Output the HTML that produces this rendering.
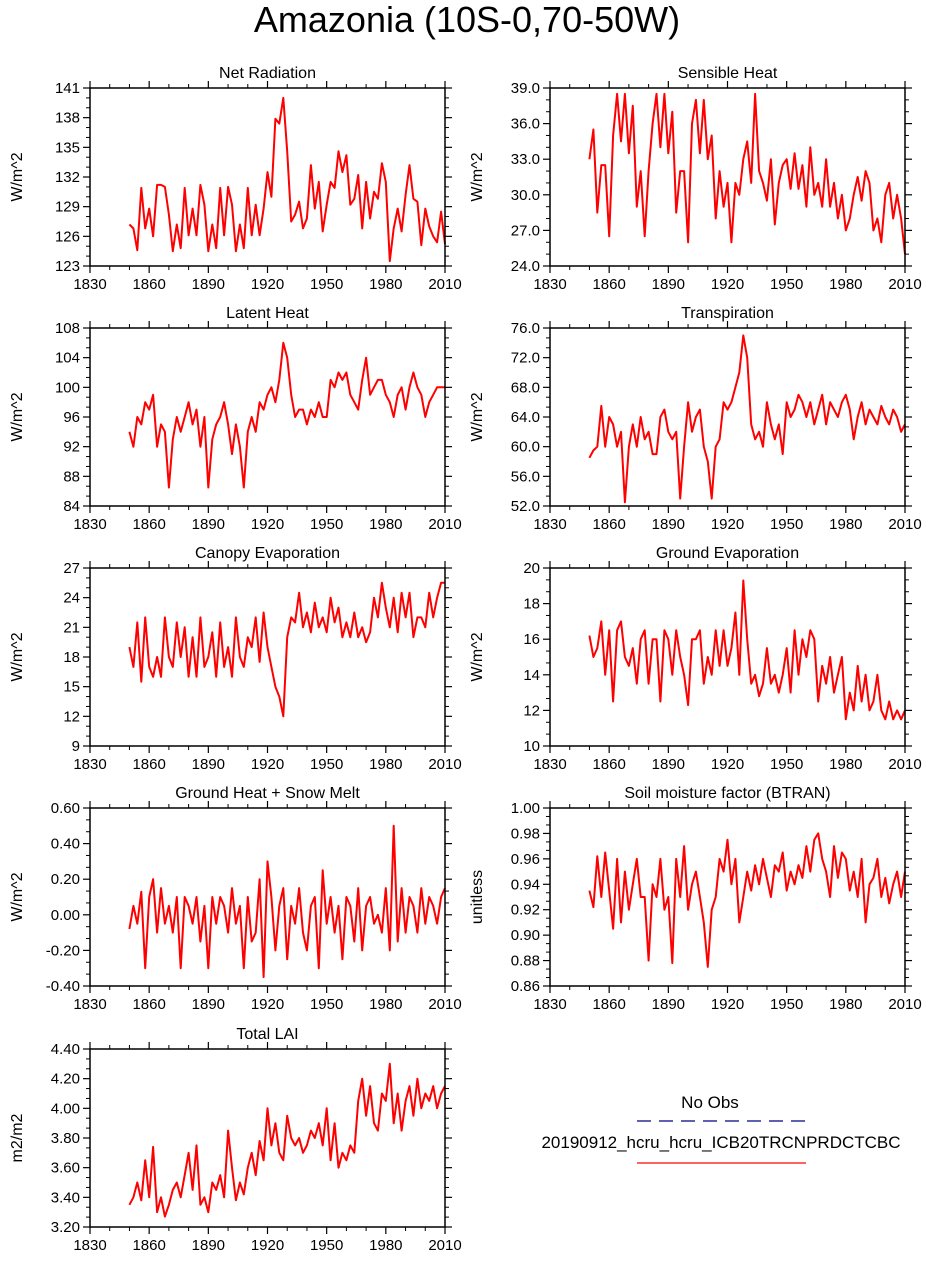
<!DOCTYPE html>
<html><head><meta charset="utf-8"><style>
body{margin:0;background:#fff;}
svg{display:block;font-family:"Liberation Sans",Arial,sans-serif;}
</style></head><body>
<svg id="fig" width="934" height="1262">
<text x="467" y="32" text-anchor="middle" font-size="36">Amazonia (10S-0,70-50W)</text>
<g>
<text x="710" y="1108" text-anchor="middle" font-size="17">No Obs</text>
<line x1="637" y1="1121" x2="806" y2="1121" stroke="#000080" stroke-width="1.2" stroke-dasharray="14,8"/>
<text x="721" y="1148" text-anchor="middle" font-size="17">20190912_hcru_hcru_ICB20TRCNPRDCTCBC</text>
<line x1="637" y1="1163" x2="806" y2="1163" stroke="#ff0000" stroke-width="1.2"/>
</g>
</svg>
<script>
const netRad=[127.2,126.8,124.6,130.9,126.8,128.8,126,131.2,131.2,131,128.2,124.5,127.2,124.8,130.9,126.1,128.8,126.1,131.2,129.2,124.5,127.2,124.8,130.9,126.1,131,129.2,124.5,127.2,124.8,130.9,126.1,129.2,126.1,128.8,132.5,130,137.9,137.4,140,134.6,127.5,128.2,129.5,126.8,127.8,133.2,128.8,131.5,126.5,129.2,131.5,130.9,134.6,132.5,134.2,129.2,129.8,132.2,126.8,131.5,127.8,130.5,129.8,133.4,131.5,123.5,126.8,128.8,126.5,130.2,133.2,129.8,129.5,125.1,128.8,127,126,125.4,128.5,125.2];
const sensible=[33,35.5,28.5,32.5,32.5,26.5,35,38.5,34.5,38.5,33.5,37.5,29,32,26.5,32,36,38.5,34,38.5,33.5,37,28.5,32,32,26,36,38,33.5,38,33,35,28,32,29,31,26,31,30,33,34.5,31,38.5,32,31,29.5,33,27.5,31,32.5,33,30.5,33.5,30.5,32.5,29,34,30,31,29,33,29,31,28,30,27,28,30,31.5,29.5,32,31,27,28,26,30,31,28,30,28,25];
const latent=[94,92,96,95,98,97,99,92,95,94,86.5,93,96,94,96,98,95,97,92,96,86.5,93,95,96,98,95,91,95,92,86.5,94,96,94,98,97,99,100,98,101,106,104,99,96,97,97,95,97,96,98,96,96,101,100,102,101,102,99,98,97,101,104,99,100,101,101,99,98,96,99,100,97,100,102,100,99,96,98,99,100,100,100];
const transp=[58.5,59.5,60,65.5,60,64,63,60,62,52.5,60,63,60,64,61,62,59,59,64,65,62,61,62,53,60,66,62,64,65,60,58,53,60,61,66,65,66,68,70,75,72,63,61,62,60,66,63,61,63,59,66,64,65,67,66,64,66,63,65,67,63,66,65,64,66,67,65,61,64,66,63,65,64,63,65.5,64,63,65,64,62,63];
const canopy=[19,17,21.5,15.5,22,17,16,18,16,22,18,17,21.5,18,21,16,20,16,22,17,18,20.5,16,21.5,17,19,16,22,18,17,20,19,22,17.5,22.5,19,17,15,14,12,20,22,21.5,24.5,21,22.5,20.5,23.5,21,22,20.5,24,21.5,23,20,21.5,20,22.5,20,21,19.5,20.5,24,22,25.5,23,21,24,20.5,24.5,22,24.5,20,22,22,21,24.5,22,24,25.5,25.5];
const groundEvap=[16.2,15,15.5,17,14,16.5,12.5,16.5,17,15,14.5,15.5,13.5,16,16.5,13.5,16,16,12.5,16.5,16,14,16.5,15,14,12.3,16,16,16.5,13.5,15,14,16.5,14.5,16.5,14.5,15.5,17.5,14,19.3,16,13.5,14,12.8,13.5,15.5,13.5,14,13,14,15.5,13,16.5,14,16,15,16.5,16,12.5,14.5,13.5,15,13,14,15,11.5,13,12,14.5,12.5,14,12,12.5,14,12,11.5,12.5,11.5,12,11.5,12];
const groundHeat=[-0.08,0.05,-0.05,0.13,-0.3,0.1,0.2,-0.1,0.15,-0.05,0.05,-0.1,0.1,-0.3,0.1,0.05,-0.05,0.1,-0.15,0.05,-0.3,0.1,-0.05,0.1,0.05,-0.1,0.15,-0.05,0.05,-0.3,0.1,-0.15,-0.1,0.2,-0.35,0.3,0.1,-0.2,0.05,0.15,-0.25,0.05,-0.05,0.15,-0.1,-0.2,0.05,0.1,-0.3,0.25,-0.05,0.1,-0.1,0.05,-0.25,0.1,0.05,-0.15,0.15,-0.2,0.05,0.1,-0.05,0.0,-0.1,0.15,-0.2,0.5,-0.15,0.15,-0.1,0.1,0.05,-0.1,0.15,-0.05,0.1,0.05,-0.05,0.1,0.15];
const btran=[0.935,0.922,0.962,0.93,0.965,0.935,0.905,0.96,0.91,0.95,0.92,0.94,0.96,0.93,0.93,0.88,0.94,0.93,0.96,0.92,0.93,0.878,0.96,0.93,0.97,0.92,0.94,0.95,0.93,0.91,0.875,0.92,0.93,0.96,0.95,0.975,0.94,0.96,0.91,0.93,0.95,0.935,0.955,0.94,0.96,0.945,0.93,0.955,0.95,0.965,0.935,0.95,0.94,0.955,0.945,0.97,0.95,0.975,0.98,0.96,0.95,0.93,0.97,0.945,0.965,0.96,0.935,0.95,0.93,0.96,0.91,0.94,0.945,0.96,0.93,0.945,0.925,0.94,0.95,0.93,0.95];
const lai=[3.35,3.4,3.5,3.38,3.65,3.4,3.74,3.3,3.4,3.27,3.35,3.45,3.5,3.4,3.55,3.7,3.45,3.75,3.35,3.4,3.3,3.5,3.45,3.55,3.4,3.85,3.6,3.38,3.5,3.42,3.6,3.7,3.55,3.78,3.65,4.0,3.75,3.9,3.7,3.65,3.95,3.8,3.75,3.8,3.7,3.75,3.85,3.8,3.9,3.75,4.0,3.65,3.9,3.6,3.7,3.65,3.75,3.7,4.05,4.2,3.95,4.15,3.9,3.85,4.1,4.05,4.3,3.9,4.1,3.85,4.05,4.15,3.95,4.2,4.0,4.1,4.05,4.15,4.0,4.1,4.15];
const xTicks=[1830,1860,1890,1920,1950,1980,2010];

const NS="http://www.w3.org/2000/svg";
const svg=document.getElementById('fig');
function mk(tag,attrs,parent){const e=document.createElementNS(NS,tag);for(const k in attrs)e.setAttribute(k,attrs[k]);parent.appendChild(e);return e;}
const panels=[
 {name:'net-radiation',title:'Net Radiation',yt:'W/m^2',data:netRad,x:90,y:88,min:123,max:141,step:3,dec:0},
 {name:'sensible-heat',title:'Sensible Heat',yt:'W/m^2',data:sensible,x:550,y:88,min:24,max:39,step:3,dec:1},
 {name:'latent-heat',title:'Latent Heat',yt:'W/m^2',data:latent,x:90,y:328,min:84,max:108,step:4,dec:0},
 {name:'transpiration',title:'Transpiration',yt:'W/m^2',data:transp,x:550,y:328,min:52,max:76,step:4,dec:1},
 {name:'canopy-evaporation',title:'Canopy Evaporation',yt:'W/m^2',data:canopy,x:90,y:568,min:9,max:27,step:3,dec:0},
 {name:'ground-evaporation',title:'Ground Evaporation',yt:'W/m^2',data:groundEvap,x:550,y:568,min:10,max:20,step:2,dec:0},
 {name:'ground-heat',title:'Ground Heat + Snow Melt',yt:'W/m^2',data:groundHeat,x:90,y:808,min:-0.4,max:0.6,step:0.2,dec:2},
 {name:'btran',title:'Soil moisture factor (BTRAN)',yt:'unitless',data:btran,x:550,y:808,min:0.86,max:1.0,step:0.02,dec:2},
 {name:'total-lai',title:'Total LAI',yt:'m2/m2',data:lai,x:90,y:1049,min:3.2,max:4.4,step:0.2,dec:2}
];
const W=355,H=178;
panels.forEach(p=>{
 const g=mk('g',{},svg);
 
 
 const xs=v=>p.x+(v-1830)/180*W;
 const ys=v=>p.y+H-(v-p.min)/(p.max-p.min)*H;
 const t=mk('text',{x:p.x+W/2,y:p.y-10,'text-anchor':'middle','font-size':16},g);t.textContent=p.title;
 
 
 const yt=mk('text',{x:0,y:0,'text-anchor':'middle','font-size':16,transform:`translate(${p.x-68},${p.y+H/2}) rotate(-90)`},g);yt.textContent=p.yt;
 
 
 const n=Math.round((p.max-p.min)/p.step);
 for(let i=0;i<=n;i++){
  const v=p.min+i*p.step,yy=ys(v);
  mk('line',{x1:p.x,y1:yy,x2:p.x-7,y2:yy,stroke:'#000','stroke-width':1.2},g);
  mk('line',{x1:p.x+W,y1:yy,x2:p.x+W+7,y2:yy,stroke:'#000','stroke-width':1.2},g);
  const l=mk('text',{x:p.x-10,y:yy+5,'text-anchor':'end','font-size':15},g);l.textContent=v.toFixed(p.dec);
  
  
  if(i<n)for(let k=1;k<3;k++){const m=ys(v+k*p.step/3);
   mk('line',{x1:p.x,y1:m,x2:p.x-4,y2:m,stroke:'#000','stroke-width':1},g);
   mk('line',{x1:p.x+W,y1:m,x2:p.x+W+4,y2:m,stroke:'#000','stroke-width':1},g);}
 }
 xTicks.forEach((v,i)=>{
  const xx=xs(v);
  mk('line',{x1:xx,y1:p.y+H,x2:xx,y2:p.y+H+7,stroke:'#000','stroke-width':1.2},g);
  mk('line',{x1:xx,y1:p.y,x2:xx,y2:p.y-7,stroke:'#000','stroke-width':1.2},g);
  const l=mk('text',{x:xx,y:p.y+H+23,'text-anchor':'middle','font-size':15},g);l.textContent=v;
  
  
  if(i<xTicks.length-1)for(let k=1;k<3;k++){const m=xs(v+k*10);
   mk('line',{x1:m,y1:p.y+H,x2:m,y2:p.y+H+4,stroke:'#000','stroke-width':1},g);
   mk('line',{x1:m,y1:p.y,x2:m,y2:p.y-4,stroke:'#000','stroke-width':1},g);}
 });
 const d=p.data.map((v,i)=>(i?'L':'M')+xs(1850+i*160/(p.data.length-1)).toFixed(1)+','+ys(v).toFixed(1)).join('');
 const path=mk('path',{d:d,fill:'none',stroke:'#ff0000','stroke-width':2,'stroke-linejoin':'round'},g);
 
 
 const box=mk('rect',{x:p.x,y:p.y,width:W,height:H,fill:'none',stroke:'#000','stroke-width':1.5},g);
 
 
});
</script>
</body></html>
